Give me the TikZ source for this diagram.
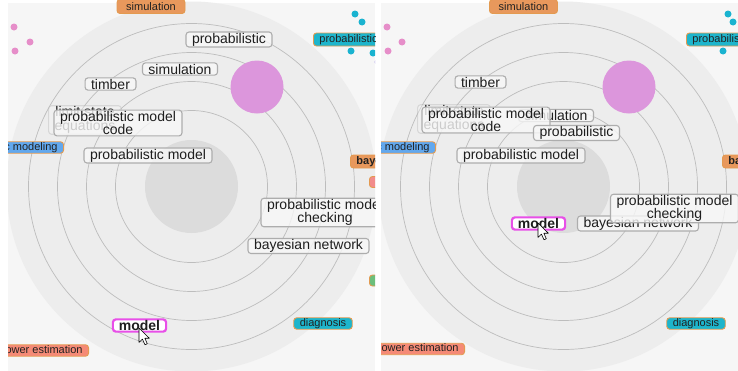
\documentclass[tikz,border=0pt]{standalone}
\usepackage{fontspec}
\setmainfont{Liberation Sans}

\definecolor{panelbg}{HTML}{F6F6F6}
\definecolor{outerdisk}{HTML}{EDEDED}
\definecolor{innerdisk}{HTML}{DCDCDC}
\definecolor{ringline}{HTML}{BDBDBD}
\definecolor{bubble}{HTML}{DC96DC}
\definecolor{cyandot}{HTML}{1AB3D0}
\definecolor{pinkdot}{HTML}{E68EC9}
\definecolor{lavdot}{HTML}{A99AE8}
\definecolor{orangetag}{HTML}{E8985C}
\definecolor{cyantag}{HTML}{1DB5CC}
\definecolor{bluetag}{HTML}{62A8EE}
\definecolor{salmontag}{HTML}{F58A76}
\definecolor{pinktag}{HTML}{F28C8C}
\definecolor{greentag}{HTML}{6CBF7C}
\definecolor{tagborder}{HTML}{E39A50}
\definecolor{tagtext}{HTML}{222222}
\definecolor{lblborder}{HTML}{ADADAD}
\definecolor{lblfill}{HTML}{F7F7F7}
\definecolor{lbltext}{HTML}{1E1E1E}
\definecolor{focusborder}{HTML}{E84FE8}

\tikzset{
  lbl/.style={draw=lblborder, line width=1.1pt, rounded corners=3pt,
    fill=lblfill, fill opacity=0.8, text opacity=1,
    inner xsep=6pt, inner ysep=1pt, text=lbltext, align=center,
    font=\fontsize{14}{13.5}\selectfont},
  faded/.style={lbl, opacity=0.35},
  focus/.style={lbl, draw=focusborder, line width=2.2pt, fill=white,
    fill opacity=1, font=\fontsize{14}{13.5}\selectfont\bfseries},
  tag/.style={draw=tagborder, line width=0.9pt, rounded corners=3pt,
    inner xsep=6pt, inner ysep=0.6pt, text=tagtext,
    font=\fontsize{11}{12}\selectfont},
  boldtag/.style={tag, font=\fontsize{11}{12}\selectfont\bfseries},
  pointer/.style={fill=white, draw=black, line width=0.6pt, line join=round}
}

% concentric rings, central disk and the large bubble of one panel
\newcommand\drawrings[1]{%
  \fill[outerdisk] (#1,186.5) circle (185pt);
  \fill[innerdisk] (#1,186.5) circle (46.5pt);
  \foreach \r in {76,105,134,163}
    \draw[ringline, line width=0.7pt] (#1,186.5) circle (\r pt);
  \fill[bubble] ({#1+65.5},87) circle (26.5pt);
}

% mouse pointer with its tip at (#1,#2)
\newcommand\drawpointer[2]{%
  \filldraw[pointer, shift={(#1,#2)}, scale=0.9]
    (0,0) -- (0,16) -- (3.8,12.3) -- (6.6,18.6) -- (9.2,17.5)
    -- (6.5,11.4) -- (11.5,11.4) -- cycle;
}

\begin{document}
\begin{tikzpicture}[x=1pt, y=-1pt]
\useasboundingbox (0,0) rectangle (738,370);
\fill[white] (0,0) rectangle (738,370);

% ---------------- left panel ----------------
\begin{scope}
  \clip (8,-5) rectangle (375,375);
  \fill[panelbg] (8,3) rectangle (375,375);
  \drawrings{191.5}

  \fill[pinkdot] (14,27) circle (3.5pt) (30,42) circle (3.5pt) (15,51) circle (3.5pt);
  \fill[cyandot] (355,14) circle (3.5pt) (362,22) circle (3.5pt)
                 (351,51) circle (3.5pt) (373,53) circle (3.5pt);
  \fill[lavdot] (377,62) circle (2.5pt);

  \node[tag, fill=orangetag, minimum width=68pt, minimum height=14pt] (Lsimtag) at (151,6.5) {simulation};
  \node[tag, fill=cyantag, anchor=west, minimum height=13pt] (Lprobtag) at (313,39.5) {probabilistic};
  \node[boldtag, fill=orangetag, anchor=west, minimum height=13pt] (Lbaytag) at (350,161.5) {bayesian network};
  \node[tag, fill=bluetag, anchor=east] (Lmodtag) at (64,147.5) {probabilistic modeling};
  \node[tag, fill=pinktag, anchor=west, minimum width=30pt, minimum height=11pt] (Lpinktag) at (369,182) {};
  \node[tag, fill=greentag, anchor=west, minimum width=30pt, minimum height=11pt] (Lgreentag) at (369,280.5) {};
  \node[tag, fill=cyantag] (Ldiagtag) at (323,323.5) {diagnosis};
  \node[tag, fill=salmontag, anchor=east] (Lpowtag) at (89,350.5) {power estimation};

  \node[lbl] (Lprob) at (229,39.5) {probabilistic};
  \node[lbl] (Lsim) at (180,69) {simulation};
  \node[lbl] (Ltimber) at (110.5,84) {timber};
  \node[faded] (Llimit) at (85,120) {limit state\\equations};
  \node[lbl] (Lcode) at (118,123) {probabilistic model\\code};
  \node[lbl] (Lpm) at (148,155.5) {probabilistic model};
  \node[lbl] (Lcheck) at (325,212.5) {probabilistic model\\checking};
  \node[lbl] (Lbayes) at (308.5,246) {bayesian network};
  \node[focus] (Lmodel) at (139.5,325.5) {model};
  \drawpointer{139}{328}
\end{scope}

% ---------------- right panel ----------------
\begin{scope}
  \clip (381,-5) rectangle (738,375);
  \fill[panelbg] (381,3) rectangle (738,375);
  \drawrings{563.5}

  \fill[pinkdot] (387,27) circle (3.5pt) (402,42) circle (3.5pt) (388,51) circle (3.5pt);
  \fill[cyandot] (728,14) circle (3.5pt) (733,22) circle (3.5pt) (723,51) circle (3.5pt);

  \node[tag, fill=orangetag, minimum width=68pt, minimum height=14pt] (Rsimtag) at (523.5,6.5) {simulation};
  \node[tag, fill=cyantag, anchor=west, minimum height=13pt] (Rprobtag) at (686,39.5) {probabilistic};
  \node[boldtag, fill=orangetag, anchor=west, minimum height=13pt] (Rbaytag) at (722,161.5) {bayesian network};
  \node[tag, fill=bluetag, anchor=east] (Rmodtag) at (436,147.5) {probabilistic modeling};
  \node[tag, fill=cyantag] (Rdiagtag) at (696,323.5) {diagnosis};
  \node[tag, fill=salmontag, anchor=east] (Rpowtag) at (465,349) {power estimation};

  \node[lbl] (Rtimber) at (480.5,82) {timber};
  \node[faded] (Rlimit) at (454,119) {limit state\\equations};
  \node[lbl] (Rsim) at (556,115.5) {simulation};
  \node[lbl] (Rcode) at (486,120) {probabilistic model\\code};
  \node[lbl] (Rprob) at (576.5,133) {probabilistic};
  \node[lbl] (Rpm) at (521,155.5) {probabilistic model};
  \node[lbl] (Rbayes) at (638,223.5) {bayesian network};
  \node[lbl] (Rcheck) at (674.5,208.5) {probabilistic model\\checking};
  \node[focus] (Rmodel) at (538.5,223.5) {model};
  \drawpointer{538}{223}
\end{scope}
\end{tikzpicture}
\end{document}
